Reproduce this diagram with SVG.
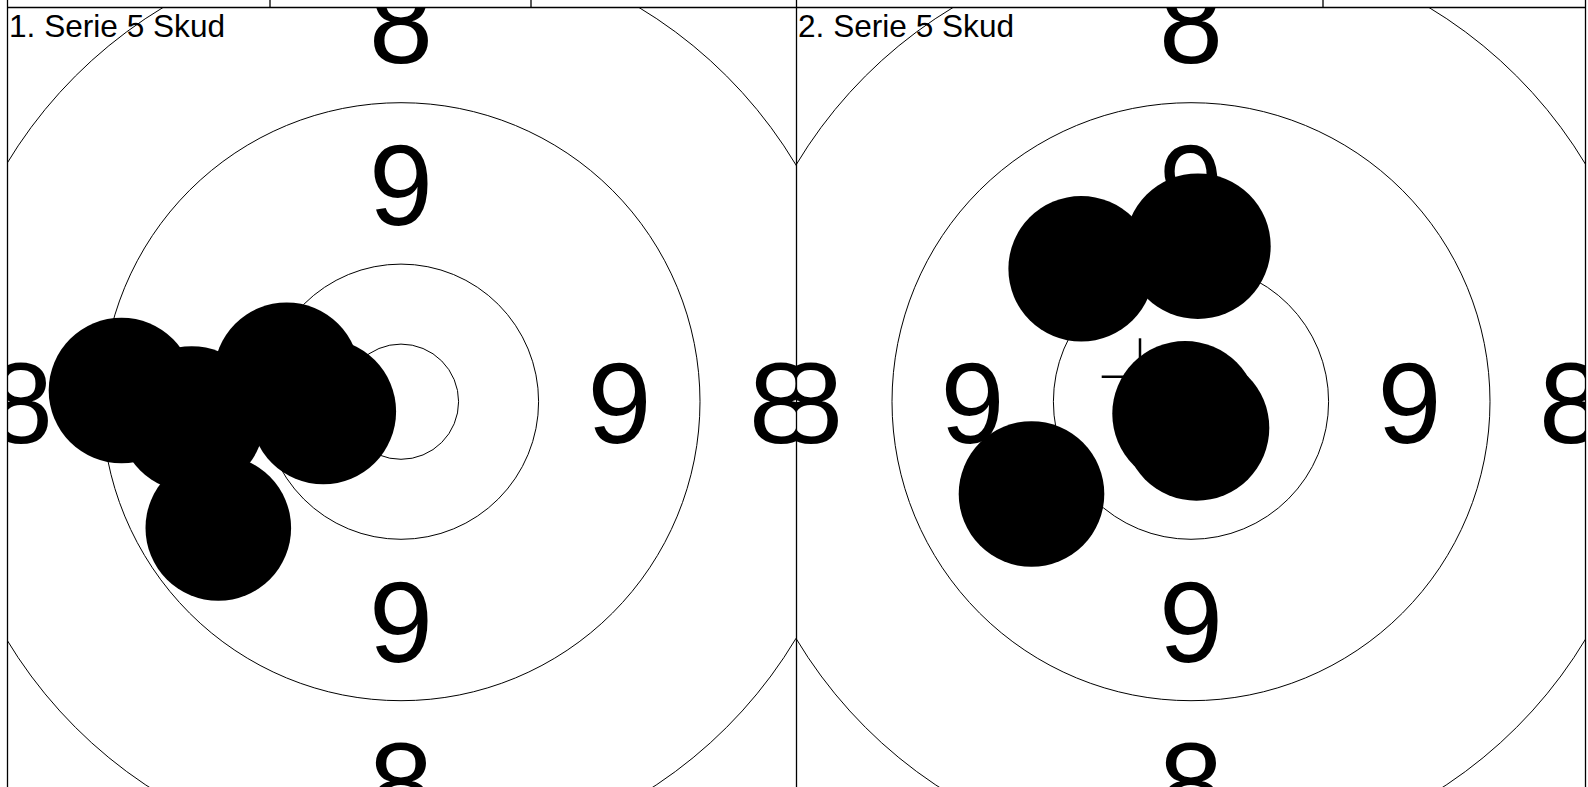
<svg xmlns="http://www.w3.org/2000/svg" width="1588" height="787" viewBox="0 0 1588 787">
<style>
.ring{fill:none;stroke:#000;stroke-width:1}
.border{fill:none;stroke:#000;stroke-width:1.3}
.shot{fill:#000}
.num{font-family:"Liberation Sans",Arial,sans-serif;font-size:115px;text-anchor:middle;fill:#000}
.title{font-family:"Liberation Sans",Arial,sans-serif;font-size:31.6px;fill:#000}
.mpi{stroke:#000;stroke-width:2.5;fill:none}
</style>
<defs>
<clipPath id="clipL"><rect x="7.5" y="7.5" width="789" height="780"/></clipPath>
<clipPath id="clipR"><rect x="796.5" y="7.5" width="789" height="780"/></clipPath>
</defs>
<rect x="0" y="0" width="1588" height="787" fill="#fff"/>

<g id="panel1" clip-path="url(#clipL)">
<circle class="ring" cx="401" cy="401.7" r="57.6"/>
<circle class="ring" cx="401" cy="401.7" r="137.6"/>
<circle class="ring" cx="401" cy="401.7" r="299"/>
<circle class="ring" cx="401" cy="401.7" r="460.5"/>
<text class="num" x="401" y="224.5">9</text>
<text class="num" x="401" y="661.5">9</text>
<text class="num" x="182.5" y="443">9</text>
<text class="num" x="619.5" y="443">9</text>
<text class="num" x="401" y="63">8</text>
<text class="num" x="401" y="823">8</text>
<text class="num" x="21" y="443">8</text>
<text class="num" x="781" y="443">8</text>
<text class="title" x="9" y="36.7">1. Serie 5 Skud</text>
<g id="shots1">
<circle class="shot" cx="121.5" cy="390.5" r="72.8"/>
<circle class="shot" cx="191.7" cy="419" r="72.8"/>
<circle class="shot" cx="286.7" cy="375.2" r="72.8"/>
<circle class="shot" cx="323.3" cy="411.5" r="72.8"/>
<circle class="shot" cx="218.3" cy="528" r="72.8"/>
</g>
</g>

<g id="panel2" clip-path="url(#clipR)">
<circle class="ring" cx="1191" cy="401.7" r="57.6"/>
<circle class="ring" cx="1191" cy="401.7" r="137.6"/>
<circle class="ring" cx="1191" cy="401.7" r="299"/>
<circle class="ring" cx="1191" cy="401.7" r="460.5"/>
<text class="num" x="1191" y="224.5">9</text>
<text class="num" x="1191" y="661.5">9</text>
<text class="num" x="972.5" y="443">9</text>
<text class="num" x="1409.5" y="443">9</text>
<text class="num" x="1191" y="63">8</text>
<text class="num" x="1191" y="823">8</text>
<text class="num" x="811" y="443">8</text>
<text class="num" x="1571" y="443">8</text>
<text class="title" x="798" y="36.7">2. Serie 5 Skud</text>
<g id="mpi2">
<line class="mpi" x1="1101.7" y1="376.7" x2="1178.3" y2="376.7"/>
<line class="mpi" x1="1140" y1="338.3" x2="1140" y2="415"/>
</g>
<g id="shots2">
<circle class="shot" cx="1081.2" cy="268.8" r="72.8"/>
<circle class="shot" cx="1197.9" cy="246.2" r="72.8"/>
<circle class="shot" cx="1185.1" cy="413.8" r="72.8"/>
<circle class="shot" cx="1196.5" cy="427.9" r="72.8"/>
<circle class="shot" cx="1031.5" cy="494" r="72.8"/>
</g>
</g>

<g id="frame">
<line class="border" x1="7.5" y1="7.5" x2="1585.5" y2="7.5"/>
<line class="border" x1="7.5" y1="0" x2="7.5" y2="787"/>
<line class="border" x1="796.5" y1="0" x2="796.5" y2="787"/>
<line class="border" x1="1585.5" y1="0" x2="1585.5" y2="787"/>
<line class="border" x1="270" y1="0" x2="270" y2="7.5"/>
<line class="border" x1="531" y1="0" x2="531" y2="7.5"/>
<line class="border" x1="1323" y1="0" x2="1323" y2="7.5"/>
</g>
</svg>
